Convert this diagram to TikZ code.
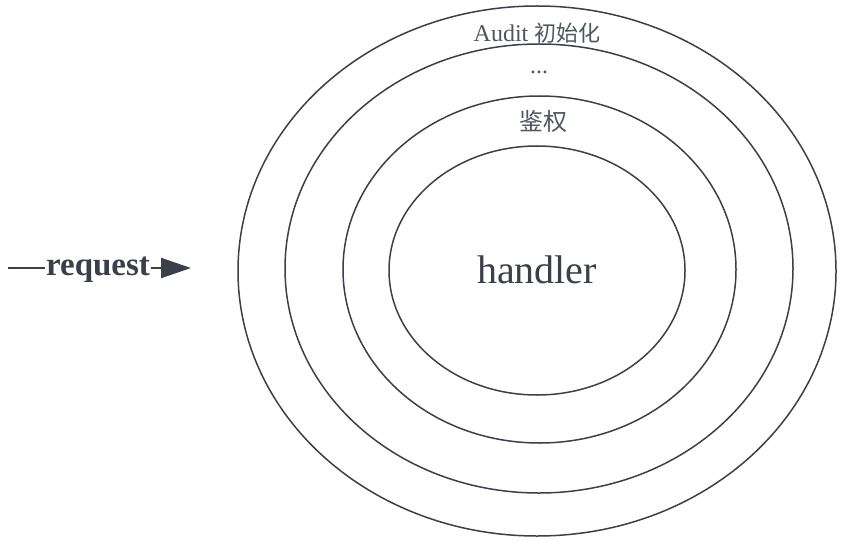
\documentclass[tikz,border=0pt]{standalone}
\usepackage{fontspec}
\setmainfont{Liberation Serif}
\newfontfamily\cjk{Noto Sans CJK SC}
\usetikzlibrary{arrows.meta}
\definecolor{ink}{HTML}{3A3F4A}
\definecolor{soft}{HTML}{50555F}
\tikzset{
  ring/.style={draw=ink, line width=1.5pt},
  lbl/.style={text=soft, inner sep=0pt},
}
\begin{document}
\begin{tikzpicture}[x=1pt,y=-1pt]
\useasboundingbox (0,0) rectangle (842,540);
\draw[ring] (537,271) ellipse [x radius=299, y radius=265];
\draw[ring] (539,268.5) ellipse [x radius=254, y radius=224.5];
\draw[ring] (539.5,269.5) ellipse [x radius=196.5, y radius=173.5];
\draw[ring] (537,270.5) ellipse [x radius=148, y radius=124.5];
\node[lbl, font=\fontsize{24}{28}\selectfont] (audit) at (537,33) {Audit {\cjk\fontsize{22}{26}\selectfont 初始化}};
\node[lbl, font=\fontsize{24}{28}\selectfont] (dots) at (539,72) {...};
\node[lbl, font=\fontsize{24}{28}\selectfont\cjk] (auth) at (543,121) {鉴权};
\node[text=ink, inner sep=0pt, font=\fontsize{40}{48}\selectfont] (handler) at (537,270) {handler};
\coordinate (start) at (8,268);
\coordinate (end) at (191,268);
\node[text=ink, inner sep=1pt, font=\fontsize{33}{38}\selectfont\bfseries] (req) at (98,270) {request};
\draw[ink, line width=2pt] (start) -- (req.west |- start);
\draw[ink, line width=2pt, -{Triangle[length=30pt, width=20pt]}] (req.east |- end) -- (end);
\end{tikzpicture}
\end{document}
